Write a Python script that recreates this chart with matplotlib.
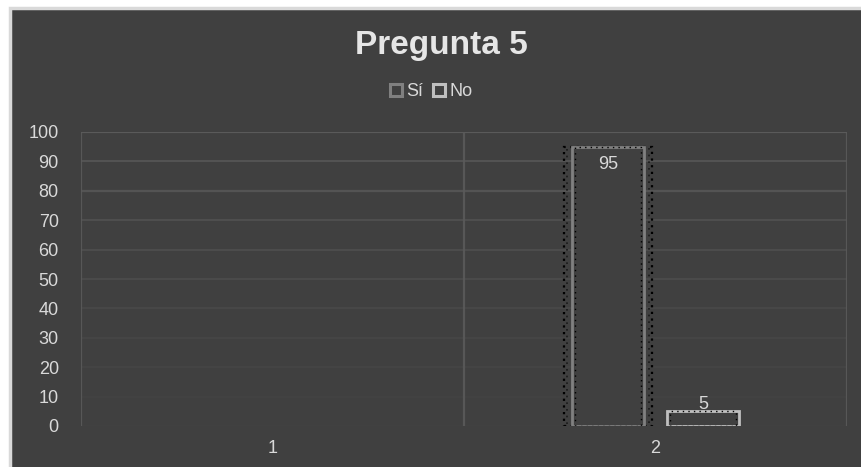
import numpy as np
import matplotlib
matplotlib.use("Agg")
from matplotlib import pyplot as plt
from matplotlib.patches import Rectangle
from matplotlib.lines import Line2D

# Datos del grafico
categorias = ["1", "2"]
valores_si = [np.nan, 95]
valores_no = [np.nan, 5]
series = ["Sí", "No"]
y_ticks = np.arange(0, 101, 10)

FONDO = "#404040"
TEXTO = "#d9d9d9"
REJILLA = "#5a5a5a"
BORDE_SI = "#808080"
BORDE_NO = "#bfbfbf"

plt.rcParams["font.family"] = ["Liberation Sans", "DejaVu Sans"]

fig = plt.figure(figsize=(8.61, 4.67), dpi=100, facecolor="white")

# Marco del area del grafico (recortado a la derecha y abajo)
fig.patches.append(Rectangle((9.5 / 861, -0.05), 1.1, 1 - 7.5 / 467 + 0.05,
                             transform=fig.transFigure, facecolor=FONDO,
                             edgecolor="#d9d9d9", linewidth=2.5, zorder=-10))

ax = fig.add_axes([81 / 861, 1 - 426 / 467, (847 - 81) / 861, (426 - 132) / 467])
ax.set_zorder(5)
ax.set_facecolor("none")

x = np.arange(1, len(categorias) + 1)
desp = 0.124
ancho = 0.19

# Rejilla horizontal que se desvanece hacia abajo
for yv in y_ticks:
    alfa = 0.05 + 0.95 * (yv / 100) ** 1.2
    ax.axhline(yv, color=REJILLA, linewidth=1.6 if yv in (80, 10, 100) else 1.2,
               alpha=alfa, zorder=1)
for xv in [0.5, 1.5, 2.5]:
    ax.plot([xv, xv], [0, 100], color=REJILLA, linewidth=1.6, alpha=0.9, zorder=1)

# Barras "Sí"
ax.bar(x - desp, valores_si, width=ancho + 0.04, facecolor="none",
       edgecolor="black", linestyle=(0, (1, 2)), linewidth=1.6, zorder=2)
ax.bar(x - desp, valores_si, width=ancho + 0.025, facecolor="none",
       edgecolor="#1a1a1a", linestyle=(1, (1, 3)), linewidth=1.2, zorder=2)
ax.bar(x - desp, valores_si, width=ancho, facecolor=FONDO,
       edgecolor=BORDE_SI, linewidth=2, zorder=3)
ax.bar(x - desp, valores_si, width=ancho - 0.02, facecolor="none",
       edgecolor="black", linestyle=(0, (1, 3)), linewidth=1.0, zorder=4)

# Barras "No"
ax.bar(x + desp, valores_no, width=ancho, facecolor=FONDO,
       edgecolor=BORDE_NO, linewidth=2, zorder=3)
ax.bar(x + desp, valores_no, width=ancho - 0.02, facecolor="none",
       edgecolor="black", linestyle=(0, (1, 3)), linewidth=1.0, zorder=4)

# Etiquetas de datos
for xi, v in zip(x, valores_si):
    if not np.isnan(v):
        ax.text(xi - desp, v - 3, f"{v:g}", ha="center", va="top",
                color=TEXTO, fontsize=13, zorder=5)
for xi, v in zip(x, valores_no):
    if not np.isnan(v):
        ax.text(xi + desp, v - 0.5, f"{v:g}", ha="center", va="bottom",
                color=TEXTO, fontsize=13, zorder=5)

ax.set_xlim(0.5, 2.5)
ax.set_ylim(0, 100)
ax.set_xticks(x)
ax.set_xticklabels(categorias)
ax.set_yticks(y_ticks)
ax.tick_params(colors=TEXTO, labelsize=13, length=0)
ax.tick_params(axis="y", pad=16)
ax.tick_params(axis="x", pad=10)
for s in ax.spines.values():
    s.set_visible(False)

# Titulo y leyenda
fig.text(441 / 861, 1 - 45 / 467, "Pregunta 5", ha="center", va="center",
         color="#e6e6e6", fontsize=24, fontweight="bold")

manejadores = [
    Line2D([], [], marker="s", linestyle="none", markersize=8.5,
           markerfacecolor=FONDO, markeredgecolor=BORDE_SI, markeredgewidth=2.2),
    Line2D([], [], marker="s", linestyle="none", markersize=8.5,
           markerfacecolor=FONDO, markeredgecolor=BORDE_NO, markeredgewidth=2.2),
]
fig.legend(manejadores, series, loc="center", bbox_to_anchor=(0.5, 1 - 92 / 467),
           ncol=2, frameon=False, fontsize=13, labelcolor=TEXTO,
           handlelength=0.8, handletextpad=0.15, columnspacing=0.5)

plt.savefig("out.png", dpi=100, facecolor=fig.get_facecolor())
